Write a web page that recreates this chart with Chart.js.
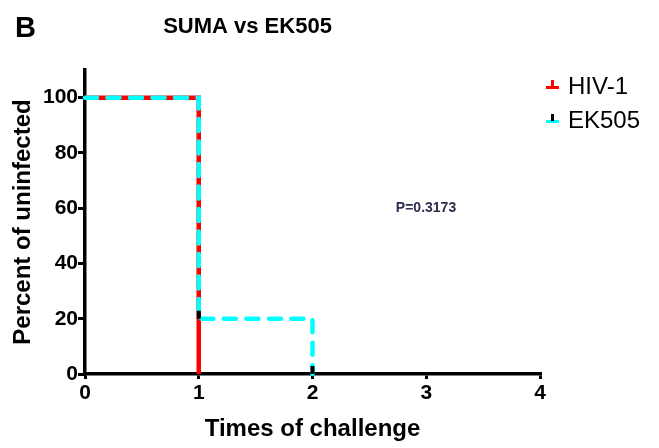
<!DOCTYPE html>
<html>
<head>
<meta charset="utf-8">
<script src="https://cdn.jsdelivr.net/npm/chart.js@4.4.1/dist/chart.umd.min.js"></script>
<style>
  html, body { margin: 0; padding: 0; background: #fff; }
  #wrap { width: 659px; height: 448px; }
</style>
</head>
<body>
<div id="wrap"><canvas id="survivalChart" width="659" height="448"></canvas></div>
<script>
// survival data (% uninfected after each challenge)
const hivTimes = [0, 1];
const hivPercent = [100, 0];
const ekTimes = [0, 1, 2];
const ekPercent = [100, 20, 0];
// censored ticks on the EK505 curve
const ekCensorTimes = [1, 2];
const ekCensorPercent = [20, 0];

const xTicks = [0, 1, 2, 3, 4];
const yTicks = [0, 20, 40, 60, 80, 100];

const seriesNames = ['HIV-1', 'EK505'];
const chartTitle = 'SUMA vs EK505';
const panelLabel = 'B';
const pValueText = 'P=0.3173';

const FONT = 'Arial, "Liberation Sans", sans-serif';
const RED = '#ff0000';
const CYAN = '#00ffff';

function toPoints(xs, ys) {
    return xs.map((x, i) => ({ x: x, y: ys[i] }));
}

// censor ticks go on top of every line
const censorTicks = {
    id: 'censorTicks',
    afterDatasetsDraw(chart) {
        const ctx = chart.ctx;
        const xs = chart.scales.x, ys = chart.scales.y;
        ctx.save();
        ctx.fillStyle = '#000';
        ekCensorTimes.forEach((t, i) => {
            const px = xs.getPixelForValue(t);
            const py = ys.getPixelForValue(ekCensorPercent[i]);
            ctx.fillRect(px - 2, py - 8, 4, 8);
        });
        ctx.restore();
    }
};

// title, panel letter, p value and the legend
const decor = {
    id: 'decor',
    afterDraw(chart) {
        const ctx = chart.ctx;
        ctx.save();
        ctx.fillStyle = '#000';
        ctx.textBaseline = 'alphabetic';

        ctx.font = 'bold 29px ' + FONT;
        ctx.textAlign = 'left';
        ctx.fillText(panelLabel, 15, 37);

        ctx.font = 'bold 22px ' + FONT;
        ctx.textAlign = 'center';
        ctx.fillText(chartTitle, 247.5, 33);

        ctx.font = 'bold 14px ' + FONT;
        ctx.fillStyle = '#2c2e4e';
        ctx.fillText(pValueText, 426, 212);

        // legend
        const rows = [
            { name: seriesNames[0], line: RED, tick: RED, y: 86 },
            { name: seriesNames[1], line: CYAN, tick: '#000', y: 120 }
        ];
        ctx.font = '24px ' + FONT;
        ctx.textAlign = 'left';
        ctx.textBaseline = 'middle';
        rows.forEach(r => {
            ctx.fillStyle = r.line;
            ctx.fillRect(546, r.y, 13, 3);
            ctx.fillStyle = r.tick;
            ctx.fillRect(551, r.y - 6, 3, 7);
            ctx.fillStyle = '#000';
            ctx.fillText(r.name, 568, r.y + 1);
        });
        ctx.restore();
    }
};

const axisCommon = {
    border: { display: true, color: '#000', width: 3.5 },
    grid: { drawOnChartArea: false, drawTicks: true, color: '#000', lineWidth: 3 },
    ticks: { color: '#000', font: { family: FONT, size: 21, weight: 'bold' } },
    title: { display: true, color: '#000', font: { family: FONT, size: 24, weight: 'bold' } }
};

new Chart(document.getElementById('survivalChart'), {
    type: 'line',
    data: {
        datasets: [
            {
                label: seriesNames[1],
                data: toPoints(ekTimes, ekPercent),
                stepped: true,
                borderColor: CYAN,
                borderWidth: 4.5,
                borderDash: [12, 10.5],
                borderCapStyle: 'round',
                pointRadius: 0,
                fill: false,
                order: 1,
                clip: false
            },
            {
                label: seriesNames[0],
                data: toPoints(hivTimes, hivPercent),
                stepped: true,
                borderColor: RED,
                borderWidth: 4.5,
                pointRadius: 0,
                fill: false,
                order: 2,
                clip: false
            }
        ]
    },
    options: {
        responsive: false,
        animation: false,
        layout: { padding: { top: 70, right: 119, left: 0, bottom: 0 } },
        plugins: {
            legend: { display: false },
            tooltip: { enabled: false }
        },
        scales: {
            x: {
                type: 'linear',
                min: 0,
                max: 4,
                border: axisCommon.border,
                grid: Object.assign({}, axisCommon.grid, { tickLength: 5 }),
                ticks: Object.assign({}, axisCommon.ticks, { padding: 2, maxRotation: 0 }),
                title: Object.assign({}, axisCommon.title, { text: 'Times of challenge', padding: { top: 0, bottom: 4 } }),
                afterBuildTicks: s => { s.ticks = xTicks.map(v => ({ value: v })); },
                afterFit: s => { s.height = 74; }
            },
            y: {
                min: 0,
                max: 110,
                border: axisCommon.border,
                grid: Object.assign({}, axisCommon.grid, { tickLength: 7 }),
                ticks: Object.assign({}, axisCommon.ticks, { padding: 0 }),
                title: Object.assign({}, axisCommon.title, { text: 'Percent of uninfected', padding: { top: 9, bottom: 0 } }),
                afterBuildTicks: s => { s.ticks = yTicks.map(v => ({ value: v })); },
                afterFit: s => { s.width = 85; }
            }
        }
    },
    plugins: [censorTicks, decor]
});
</script>
</body>
</html>
